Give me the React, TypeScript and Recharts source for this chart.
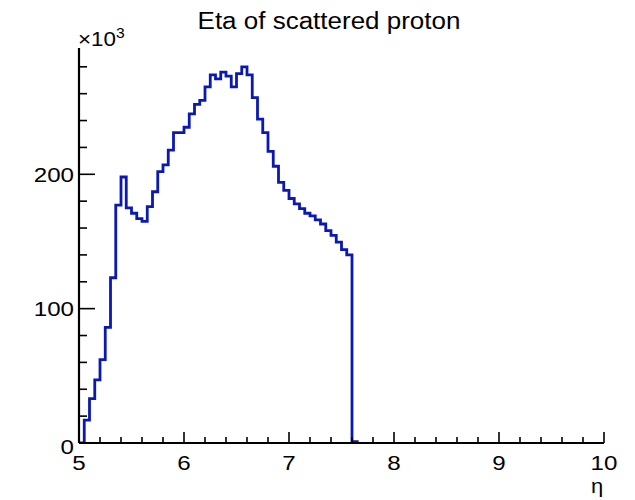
import { LineChart, Line, XAxis, YAxis } from "recharts";

// eta histogram, 100 bins of 0.05 from 5 to 10, counts in units of 10^3
// (null = empty bin past the edge, left to the frame)
const binWidth = 0.05;
const etaMin = 5;
const countsK: (number | null)[] = [
  0, 17, 33, 47, 62, 86, 123, 177, 198, 175,
  171, 167, 165, 176, 187, 202, 207, 218, 231, 231,
  235, 245, 252, 255, 265, 274, 271, 276, 273, 265,
  275, 280, 274, 257, 241, 231, 217, 206, 194, 188,
  182, 178, 174.5, 171, 169, 166, 163, 158, 154.5, 149.5,
  144, 140, 1, 0, null, null, null, null, null, null,
  null, null, null, null, null, null, null, null, null, null,
  null, null, null, null, null, null, null, null, null, null,
  null, null, null, null, null, null, null, null, null, null,
  null, null, null, null, null, null, null, null, null, null,
];

const xTicks = [
  5, 5.2, 5.4, 5.6, 5.8, 6, 6.2, 6.4, 6.6, 6.8, 7, 7.2, 7.4, 7.6, 7.8,
  8, 8.2, 8.4, 8.6, 8.8, 9, 9.2, 9.4, 9.6, 9.8, 10,
];
const yTicks = [0, 20, 40, 60, 80, 100, 120, 140, 160, 180, 200, 220, 240, 260, 280];
const yMax = 294;

const rows = countsK.map((n, i) => ({ eta: +(etaMin + i * binWidth).toFixed(2), n }));
rows.push({ eta: 10, n: null });

const W = 620;
const H = 484;
const MARGIN = { top: 40, right: 24, bottom: 9, left: 11 };
const Y_AXIS_W = 60;
const X_AXIS_H = 40;
// frame edges in svg coords, so the ticks can point inwards
const plotLeft = MARGIN.left + Y_AXIS_W;
const plotBottom = H - MARGIN.bottom - X_AXIS_H;

const FONT = '"Liberation Sans", Arial, Helvetica, sans-serif';
const FRAME = { stroke: "#000", strokeWidth: 2.2 };

function XTick(props: any) {
  const { x, payload } = props;
  const v = payload.value;
  const major = Math.abs(v - Math.round(v)) < 1e-6;
  return (
    <g>
      <line
        x1={x}
        y1={plotBottom}
        x2={x}
        y2={plotBottom - (major ? 11 : 6)}
        stroke="#000"
        strokeWidth={1.6}
      />
      {major && (
        <text
          transform={`translate(${x},${plotBottom + 27}) scale(1.15,1)`}
          textAnchor="middle"
          fontSize={21}
          fontFamily={FONT}
          fill="#000"
          stroke="none"
        >
          {v}
        </text>
      )}
    </g>
  );
}

function YTick(props: any) {
  const { y, payload } = props;
  const v = payload.value;
  const major = v % 100 === 0;
  return (
    <g>
      <line
        x1={plotLeft}
        y1={y}
        x2={plotLeft + (major ? 16 : 8)}
        y2={y}
        stroke="#000"
        strokeWidth={1.6}
      />
      {major && (
        <text
          transform={`translate(${plotLeft - 5},${y + (v === 0 ? 11 : 7.5)}) scale(1.15,1)`}
          textAnchor="end"
          fontSize={21}
          fontFamily={FONT}
          fill="#000"
          stroke="none"
        >
          {v}
        </text>
      )}
    </g>
  );
}

export default function App() {
  return (
    <div style={{ position: "relative", width: W, height: 492 }}>
      <LineChart width={W} height={H} data={rows} margin={MARGIN}>
        <XAxis
          dataKey="eta"
          type="number"
          domain={[5, 10]}
          ticks={xTicks}
          interval={0}
          tick={XTick}
          tickLine={false}
          axisLine={FRAME}
          tickSize={0}
          tickMargin={0}
          height={X_AXIS_H}
        />
        <XAxis
          xAxisId="top"
          orientation="top"
          type="number"
          domain={[5, 10]}
          tick={false}
          tickLine={false}
          axisLine={FRAME}
          height={0}
        />
        <YAxis
          type="number"
          domain={[0, yMax]}
          ticks={yTicks}
          interval={0}
          tick={YTick}
          tickLine={false}
          axisLine={FRAME}
          tickSize={0}
          tickMargin={0}
          width={Y_AXIS_W}
          allowDataOverflow
        />
        <YAxis
          yAxisId="right"
          orientation="right"
          type="number"
          domain={[0, yMax]}
          tick={false}
          tickLine={false}
          axisLine={FRAME}
          width={0}
        />
        <Line
          dataKey="n"
          type="stepAfter"
          stroke="#0a18b4"
          strokeWidth={2.8}
          dot={false}
          connectNulls={false}
          isAnimationActive={false}
        />
      </LineChart>
      <svg
        width={W}
        height={492}
        style={{ position: "absolute", left: 0, top: 0, pointerEvents: "none" }}
      >
        <text
          transform="translate(321,21) scale(1.13,1)"
          textAnchor="middle"
          fontSize={23}
          fontFamily={FONT}
          fill="#000"
        >
          Eta of scattered proton
        </text>
        <text transform="translate(70,38) scale(1.12,1)" fontSize={20} fontFamily={FONT} fill="#000">
          ×10
          <tspan fontSize={14} dy={-8}>
            3
          </tspan>
        </text>
        <text
          transform="translate(589,485) scale(1.1,1)"
          textAnchor="middle"
          fontSize={20}
          fontFamily={FONT}
          fill="#000"
        >
          η
        </text>
      </svg>
    </div>
  );
}
